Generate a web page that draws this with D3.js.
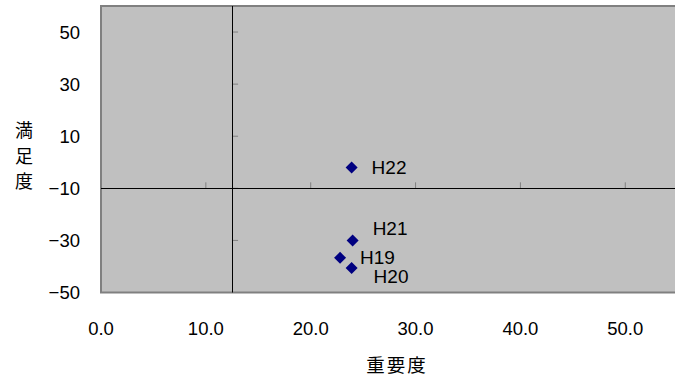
<!DOCTYPE html>
<html><head><meta charset="utf-8">
<script src="https://cdn.jsdelivr.net/npm/d3@7/dist/d3.min.js"></script>
<style>
html,body{margin:0;padding:0;background:#fff;overflow:hidden;}
svg{display:block;}
</style></head>
<body>
<script>
// Data
const pointLabels = ["H19", "H20", "H21", "H22"];
const importance = [22.8, 23.9, 24.0, 23.9];     // 重要度 (x)
const satisfaction = [-36.7, -40.6, -30.0, -2.0]; // 満足度 (y)
const xTicks = [0, 10, 20, 30, 40, 50];
const yTicks = [-50, -30, -10, 10, 30, 50];
const xCross = 12.5;   // value where vertical axis crosses
const yCross = -10;    // value where horizontal axis crosses
// label placement offsets (style only)
const labelDx = [20, 22, 20, 20];
const labelDy = [0, 8, -12, 0];

const W = 675, H = 376;
const svg = d3.select("body").append("svg").attr("width", W).attr("height", H);

const x = d3.scaleLinear().domain([0, 55]).range([101, 677.7]);
const y = d3.scaleLinear().domain([-50, 60]).range([292.5, 6]);

const latin = "'Liberation Sans', Arial, sans-serif";
const cjk = "'Noto Sans CJK JP', sans-serif";

// plot area
svg.append("rect")
  .attr("x", x(0)).attr("y", y(60))
  .attr("width", x(55) - x(0)).attr("height", y(-50) - y(60))
  .attr("fill", "#c0c0c0").attr("stroke", "#808080").attr("stroke-width", 2);

// tick marks on horizontal axis (upwards)
svg.append("g").selectAll("line").data(xTicks).join("line")
  .attr("x1", d => x(d)).attr("x2", d => x(d))
  .attr("y1", y(yCross)).attr("y2", y(yCross) - 6)
  .attr("stroke", "#808080").attr("stroke-width", 1);

// tick marks on vertical axis (rightwards)
svg.append("g").selectAll("line").data(yTicks).join("line")
  .attr("x1", x(xCross)).attr("x2", x(xCross) + 6)
  .attr("y1", d => y(d)).attr("y2", d => y(d))
  .attr("stroke", "#808080").attr("stroke-width", 1);

// axis lines
svg.append("line")
  .attr("x1", x(0)).attr("x2", x(55))
  .attr("y1", Math.round(y(yCross)) + 0.5).attr("y2", Math.round(y(yCross)) + 0.5)
  .attr("stroke", "#000").attr("stroke-width", 1);
svg.append("line")
  .attr("x1", Math.round(x(xCross)) + 0.5).attr("x2", Math.round(x(xCross)) + 0.5)
  .attr("y1", y(60)).attr("y2", y(-50))
  .attr("stroke", "#000").attr("stroke-width", 1);

// x tick labels
svg.append("g").selectAll("text").data(xTicks).join("text")
  .attr("x", d => x(d)).attr("y", 328)
  .attr("text-anchor", "middle").attr("dominant-baseline", "central")
  .attr("font-family", latin).attr("font-size", 18.5).attr("fill", "#000")
  .text(d => d3.format(".1f")(d));

// y tick labels
svg.append("g").selectAll("text").data(yTicks).join("text")
  .attr("x", 80).attr("y", d => y(d))
  .attr("text-anchor", "end").attr("dominant-baseline", "central")
  .attr("font-family", latin).attr("font-size", 18.5).attr("fill", "#000")
  .text(d => d < 0 ? "\u2212" + Math.abs(d) : String(d));

// axis titles
const ytitle = ["満", "足", "度"];
svg.append("g").selectAll("text").data(ytitle).join("text")
  .attr("x", 24).attr("y", (d, i) => 129 + i * 25.5)
  .attr("text-anchor", "middle").attr("dominant-baseline", "central")
  .attr("font-family", cjk).attr("font-size", 18).attr("fill", "#000")
  .text(d => d);

svg.append("text")
  .attr("x", 397).attr("y", 363.5)
  .attr("text-anchor", "middle").attr("dominant-baseline", "central")
  .attr("font-family", cjk).attr("font-size", 18.5).attr("letter-spacing", 2).attr("fill", "#000")
  .text("重要度");

// points
const pts = pointLabels.map((l, i) => ({label: l, x: importance[i], y: satisfaction[i], dx: labelDx[i], dy: labelDy[i]}));
svg.append("g").selectAll("path").data(pts).join("path")
  .attr("transform", d => `translate(${x(d.x)},${y(d.y)})`)
  .attr("d", "M0,-6L6,0L0,6L-6,0Z")
  .attr("fill", "#000080");

svg.append("g").selectAll("text").data(pts).join("text")
  .attr("x", d => x(d.x) + d.dx).attr("y", d => y(d.y) + d.dy)
  .attr("dominant-baseline", "central")
  .attr("font-family", latin).attr("font-size", 19).attr("fill", "#000")
  .text(d => d.label);
</script>
</body></html>
